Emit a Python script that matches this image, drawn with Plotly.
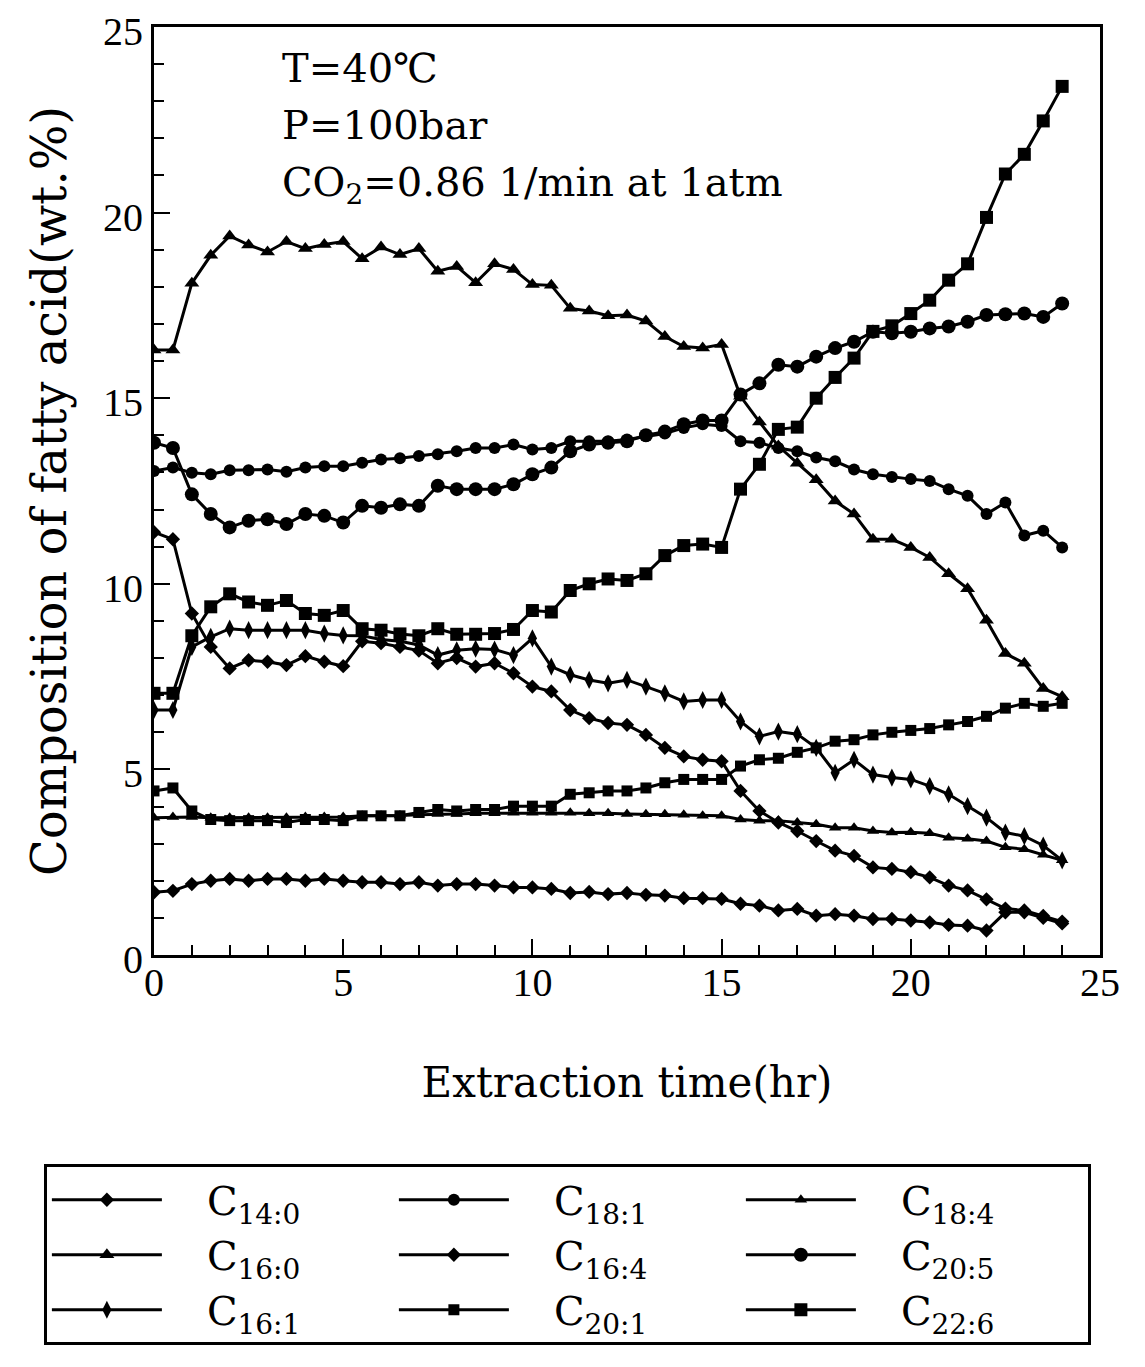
import plotly.graph_objects as go

times = [0, 0.5, 1, 1.5, 2, 2.5, 3, 3.5, 4, 4.5, 5, 5.5, 6, 6.5, 7, 7.5, 8, 8.5, 9, 9.5,
         10, 10.5, 11, 11.5, 12, 12.5, 13, 13.5, 14, 14.5, 15, 15.5, 16, 16.5, 17, 17.5,
         18, 18.5, 19, 19.5, 20, 20.5, 21, 21.5, 22, 22.5, 23, 23.5, 24]

c14_0 = [11.39, 11.2, 9.2, 8.3, 7.72, 7.94, 7.9, 7.81, 8.05, 7.9, 7.78, 8.45, 8.4, 8.3, 8.2,
         7.86, 8.0, 7.77, 7.86, 7.59, 7.23, 7.1, 6.6, 6.38, 6.25, 6.2, 5.93, 5.58, 5.35, 5.26,
         5.22, 4.42, 3.88, 3.57, 3.34, 3.07, 2.81, 2.67, 2.36, 2.32, 2.23, 2.09, 1.87, 1.74,
         1.5, 1.25, 1.2, 1.05, 0.9]
c16_0 = [16.3, 16.3, 18.1, 18.85, 19.37, 19.13, 18.94, 19.22, 19.03, 19.14, 19.22, 18.76, 19.07,
         18.87, 19.03, 18.42, 18.55, 18.11, 18.62, 18.47, 18.06, 18.04, 17.42, 17.35, 17.22,
         17.24, 17.08, 16.66, 16.39, 16.35, 16.45, 15.05, 14.36, 13.71, 13.25, 12.8, 12.23,
         11.88, 11.2, 11.2, 10.98, 10.71, 10.27, 9.87, 9.02, 8.12, 7.86, 7.18, 6.96]
c16_1 = [6.6, 6.6, 8.3, 8.57, 8.79, 8.75, 8.75, 8.75, 8.75, 8.66, 8.61, 8.6, 8.5, 8.45, 8.35,
         8.08, 8.21, 8.25, 8.23, 8.08, 8.53, 7.77, 7.55, 7.41, 7.32, 7.41, 7.23, 7.05, 6.83,
         6.87, 6.87, 6.29, 5.89, 6.02, 5.95, 5.58, 4.91, 5.26, 4.86, 4.78, 4.73, 4.55, 4.33,
         4.01, 3.7, 3.3, 3.2, 2.95, 2.55]
c18_1 = [13.04, 13.13, 12.99, 12.95, 13.06, 13.06, 13.08, 13.02, 13.13, 13.17, 13.17, 13.26,
         13.35, 13.38, 13.44, 13.49, 13.57, 13.66, 13.66, 13.75, 13.62, 13.66, 13.84, 13.84,
         13.84, 13.89, 13.98, 14.05, 14.2, 14.3, 14.25, 13.84, 13.8, 13.66, 13.57, 13.4, 13.3,
         13.08, 12.95, 12.88, 12.82, 12.77, 12.55, 12.37, 11.88, 12.19, 11.3, 11.43, 10.98]
c16_4 = [1.69, 1.73, 1.91, 2.0, 2.05, 2.0, 2.05, 2.05, 2.0, 2.05, 2.0, 1.96, 1.96, 1.91, 1.96,
         1.87, 1.91, 1.91, 1.87, 1.82, 1.82, 1.78, 1.67, 1.7, 1.64, 1.67, 1.62, 1.6, 1.53, 1.53,
         1.51, 1.38, 1.33, 1.2, 1.24, 1.06, 1.1, 1.06, 0.97, 0.97, 0.93, 0.88, 0.81, 0.79, 0.66,
         1.15, 1.15, 1.0, 0.85]
c20_1 = [4.42, 4.5, 3.88, 3.65, 3.62, 3.62, 3.62, 3.57, 3.65, 3.65, 3.62, 3.75, 3.75, 3.75, 3.84,
         3.92, 3.88, 3.92, 3.92, 4.01, 4.01, 4.01, 4.33, 4.37, 4.42, 4.42, 4.5, 4.64, 4.73, 4.73,
         4.73, 5.09, 5.26, 5.3, 5.46, 5.58, 5.76, 5.8, 5.93, 6.0, 6.05, 6.1, 6.2, 6.29, 6.43,
         6.65, 6.78, 6.7, 6.78]
c18_4 = [3.7, 3.72, 3.72, 3.7, 3.7, 3.7, 3.7, 3.7, 3.72, 3.72, 3.72, 3.75, 3.75, 3.76, 3.78,
         3.8, 3.8, 3.82, 3.82, 3.83, 3.83, 3.83, 3.83, 3.82, 3.82, 3.8, 3.79, 3.79, 3.78, 3.75,
         3.75, 3.65, 3.62, 3.62, 3.57, 3.52, 3.43, 3.43, 3.34, 3.3, 3.31, 3.28, 3.16, 3.13, 3.07,
         2.9, 2.85, 2.7, 2.55]
c20_5 = [13.8, 13.66, 12.41, 11.88, 11.52, 11.7, 11.74, 11.61, 11.88, 11.83, 11.65, 12.1, 12.05,
         12.14, 12.1, 12.64, 12.55, 12.55, 12.55, 12.68, 12.95, 13.13, 13.57, 13.75, 13.8, 13.84,
         14.0, 14.1, 14.3, 14.4, 14.4, 15.1, 15.4, 15.9, 15.85, 16.12, 16.35, 16.52, 16.79,
         16.75, 16.79, 16.88, 16.93, 17.06, 17.24, 17.26, 17.28, 17.19, 17.55]
c22_6 = [7.05, 7.05, 8.6, 9.38, 9.73, 9.51, 9.42, 9.55, 9.2, 9.15, 9.28, 8.79, 8.75, 8.65, 8.6,
         8.79, 8.64, 8.64, 8.66, 8.77, 9.28, 9.24, 9.82, 10.0, 10.13, 10.09, 10.27, 10.76, 11.03,
         11.07, 10.98, 12.55, 13.22, 14.16, 14.22, 15.0, 15.56, 16.08, 16.8, 16.95, 17.28, 17.64,
         18.18, 18.62, 19.87, 21.04, 21.57, 22.47, 23.4]

x_ticks = [0, 5, 10, 15, 20, 25]
y_ticks = [0, 5, 10, 15, 20, 25]

TICK_FONT = "Liberation Serif"
TEXT_FONT = "DejaVu Serif"
GAP = "\u2003"

# legend order (row-major, three columns)
series = [
    ("C<sub>14:0</sub>", c14_0, "diamond", 11),
    ("C<sub>18:1</sub>", c18_1, "circle", 12),
    ("C<sub>18:4</sub>", c18_4, "triangle-up", 11),
    ("C<sub>16:0</sub>", c16_0, "triangle-up", 13),
    ("C<sub>16:4</sub>", c16_4, "diamond", 11),
    ("C<sub>20:5</sub>", c20_5, "circle", 14),
    ("C<sub>16:1</sub>", c16_1, "diamond-tall", 13),
    ("C<sub>20:1</sub>", c20_1, "square", 11),
    ("C<sub>22:6</sub>", c22_6, "square", 13),
]

fig = go.Figure()
for name, vals, sym, size in series:
    fig.add_trace(go.Scatter(
        x=times, y=vals, name=GAP + name, mode="lines+markers",
        line=dict(color="black", width=3),
        marker=dict(symbol=sym, size=size, color="black"),
    ))

axis_common = dict(
    range=[0, 25], ticks="inside", ticklen=16, tickwidth=2,
    tickcolor="black", showline=True, linecolor="black", linewidth=3, mirror=True,
    showgrid=False, zeroline=False, automargin=False, ticklabeloverflow="allow",
    minor=dict(dtick=1, ticks="inside", ticklen=10, tickwidth=2, tickcolor="black", showgrid=False),
    tickfont=dict(family=TICK_FONT, size=40, color="black"),
)
fig.update_xaxes(
    tickvals=x_ticks, **axis_common, ticklabelstandoff=-10,
    title=dict(text="Extraction time(hr)", font=dict(family=TEXT_FONT, size=42, color="black"), standoff=64),
)
fig.update_yaxes(
    tickvals=y_ticks, **axis_common, ticklabelshift=4,
    title=dict(text="Composition of fatty acid(wt.%)", font=dict(family=TEXT_FONT, size=48, color="black"), standoff=22),
)

notes = ["T=40℃", "P=100bar", "CO<sub>2</sub>=0.86 1/min at 1atm"]
note_y = [0.956, 0.894, 0.830]
for t, yy in zip(notes, note_y):
    fig.add_annotation(text=t, xref="paper", yref="paper", x=0.133, y=yy,
                       xanchor="left", yanchor="middle", showarrow=False,
                       font=dict(family=TEXT_FONT, size=40, color="black"))

fig.update_layout(
    width=1145, height=1367,
    margin=dict(l=146, r=53, t=19, b=420, autoexpand=False),
    plot_bgcolor="white", paper_bgcolor="white",
    font=dict(family=TEXT_FONT, color="black"),
    legend=dict(
        orientation="h", x=-0.1164, xanchor="left", y=-0.2255, yanchor="top",
        bordercolor="black", borderwidth=3, bgcolor="white",
        font=dict(family=TEXT_FONT, size=40, color="black"),
        entrywidth=222, entrywidthmode="pixels", itemwidth=110,
    ),
)

fig.write_html("out.html")
